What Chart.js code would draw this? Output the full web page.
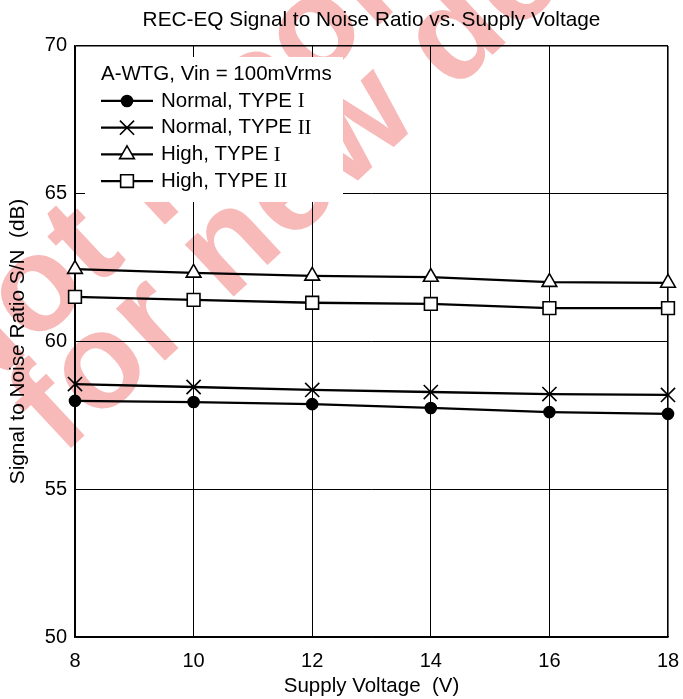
<!DOCTYPE html>
<html>
<head>
<meta charset="utf-8">
<script src="https://cdn.jsdelivr.net/npm/chart.js@4.4.1/dist/chart.umd.min.js"></script>
<style>
  html, body { margin: 0; padding: 0; background: #fff; overflow: hidden; }
  #wrap { width: 683px; height: 699px; }
</style>
</head>
<body>
<div id="wrap"><canvas id="snChart"></canvas></div>
<script>
// valores
const voltages = [8, 10, 12, 14, 16, 18];
const normalType1 = [57.99, 57.95, 57.88, 57.75, 57.61, 57.55];
const normalType2 = [58.56, 58.46, 58.36, 58.29, 58.22, 58.19];
const highType1 = [62.45, 62.32, 62.22, 62.18, 62.01, 61.98];
const highType2 = [61.51, 61.41, 61.31, 61.27, 61.13, 61.13];
const seriesLabels = ['Normal, TYPE I', 'Normal, TYPE II', 'High, TYPE I', 'High, TYPE II'];
const xTicks = [8, 10, 12, 14, 16, 18];
const yTicks = [50, 55, 60, 65, 70];
const legendHeader = 'A-WTG, Vin = 100mVrms';
const watermarkLines = ['Not recommended', 'for new design'];

const FONT = '"Liberation Sans", Arial, sans-serif';

function toPoints(values) {
    return voltages.map((v, i) => ({ x: v, y: values[i] }));
}

function makeSeries(label, values, style, radius, fill) {
    return {
        label: label,
        data: toPoints(values),
        borderColor: '#000',
        borderWidth: 2.3,
        tension: 0,
        clip: false,
        pointStyle: style,
        pointRadius: radius,
        pointHoverRadius: radius,
        pointBackgroundColor: fill,
        pointBorderColor: '#000',
        pointBorderWidth: 1.6
    };
}

// marca de agua de fondo (texto girado)
const watermark = {
    id: 'watermark',
    beforeDraw(chart) {
        const ctx = chart.ctx;
        const size = 135;
        const angle = -43 * Math.PI / 180;
        // centro de una letra de referencia de cada linea
        const anchors = [{ idx: 1, x: 40, y: 293 }, { idx: 0, x: 55, y: 415 }];
        ctx.save();
        ctx.fillStyle = '#f8b9b9';
        ctx.font = 'bold ' + size + 'px ' + FONT;
        ctx.letterSpacing = '2px';
        ctx.textAlign = 'left';
        ctx.textBaseline = 'alphabetic';
        watermarkLines.forEach((line, k) => {
            const a = anchors[k];
            const before = ctx.measureText(line.slice(0, a.idx)).width;
            const half = ctx.measureText(line[a.idx]).width / 2;
            ctx.save();
            ctx.translate(a.x, a.y);
            ctx.rotate(angle);
            ctx.fillText(line, -(before + half), size * 0.26);
            ctx.restore();
        });
        ctx.restore();
    }
};

// leyenda dentro del area del grafico, con fondo blanco
const legendBox = {
    id: 'legendBox',
    afterDatasetsDraw(chart) {
        const ctx = chart.ctx;
        const area = chart.chartArea;
        const x0 = area.left + 10;
        const y0 = area.top + 11;
        ctx.save();
        ctx.fillStyle = '#fff';
        ctx.fillRect(x0, y0, 258, 145);

        ctx.fillStyle = '#000';
        ctx.textBaseline = 'middle';
        ctx.textAlign = 'left';
        ctx.font = '20.5px ' + FONT;
        ctx.fillText(legendHeader, x0 + 16, y0 + 17);

        chart.data.datasets.forEach((ds, i) => {
            const y = y0 + 44 + i * 26.7;
            ctx.strokeStyle = '#000';
            ctx.lineWidth = ds.borderWidth;
            ctx.beginPath();
            ctx.moveTo(x0 + 16, y);
            ctx.lineTo(x0 + 68, y);
            ctx.stroke();

            ctx.fillStyle = ds.pointBackgroundColor;
            ctx.lineWidth = ds.pointBorderWidth;
            Chart.helpers.drawPoint(ctx, {
                pointStyle: ds.pointStyle,
                radius: ds.pointRadius,
                borderWidth: ds.pointBorderWidth,
                rotation: 0
            }, x0 + 42, y);

            // numero romano en letra con serifa
            const cut = ds.label.lastIndexOf(' ') + 1;
            const main = ds.label.slice(0, cut);
            const roman = ds.label.slice(cut);
            ctx.fillStyle = '#000';
            ctx.font = '20.5px ' + FONT;
            ctx.fillText(main, x0 + 76, y);
            const w = ctx.measureText(main).width;
            ctx.font = '20.5px "Liberation Serif", "Times New Roman", serif';
            ctx.fillText(roman, x0 + 76 + w, y + 1);
        });
        ctx.restore();
    }
};

const ctxSn = document.getElementById('snChart').getContext('2d');
new Chart(ctxSn, {
    type: 'line',
    data: {
        datasets: [
            makeSeries(seriesLabels[0], normalType1, 'circle', 5.5, '#000'),
            makeSeries(seriesLabels[1], normalType2, 'crossRot', 10, '#fff'),
            makeSeries(seriesLabels[2], highType1, 'triangle', 8.5, '#fff'),
            makeSeries(seriesLabels[3], highType2, 'rect', 9, '#fff')
        ]
    },
    options: {
        responsive: true,
        maintainAspectRatio: false,
        animation: false,
        events: [],
        layout: { padding: { left: 0, right: 15, top: 0, bottom: 0 } },
        scales: {
            x: {
                type: 'linear',
                min: 8,
                max: 18,
                afterBuildTicks: scale => { scale.ticks = xTicks.map(v => ({ value: v })); },
                afterFit: scale => {
                    scale.height = 62;
                    scale.paddingLeft = 0;
                    scale.paddingRight = 0;
                },
                grid: {
                    color: '#000',
                    lineWidth: c => (c.tick && c.tick.value === 18 ? 1.6 : 1),
                    drawTicks: false
                },
                border: { color: '#000', width: 1.6 },
                ticks: { color: '#000', font: { family: FONT, size: 20 }, padding: 12, maxRotation: 0 },
                title: {
                    display: true,
                    text: 'Supply Voltage  (V)',
                    color: '#000',
                    font: { family: FONT, size: 20.5 },
                    padding: { top: 0, bottom: 0 }
                }
            },
            y: {
                min: 50,
                max: 70,
                afterBuildTicks: scale => { scale.ticks = yTicks.map(v => ({ value: v })); },
                afterFit: scale => { scale.width = 75; },
                grid: {
                    color: '#000',
                    lineWidth: c => (c.tick && c.tick.value === 70 ? 1.6 : 1),
                    drawTicks: false
                },
                border: { color: '#000', width: 1.6 },
                ticks: { color: '#000', font: { family: FONT, size: 20 }, padding: 8 },
                title: {
                    display: true,
                    text: 'Signal to Noise Ratio S/N  (dB)',
                    color: '#000',
                    font: { family: FONT, size: 20.8 },
                    padding: { top: 6, bottom: 0 }
                }
            }
        },
        plugins: {
            legend: { display: false },
            tooltip: { enabled: false },
            title: {
                display: true,
                fullSize: false,
                text: 'REC-EQ Signal to Noise Ratio vs. Supply Voltage',
                color: '#000',
                font: { family: FONT, size: 20.8, weight: 'normal' },
                padding: { top: 8, bottom: 13 }
            }
        }
    },
    plugins: [watermark, legendBox]
});
</script>
</body>
</html>
